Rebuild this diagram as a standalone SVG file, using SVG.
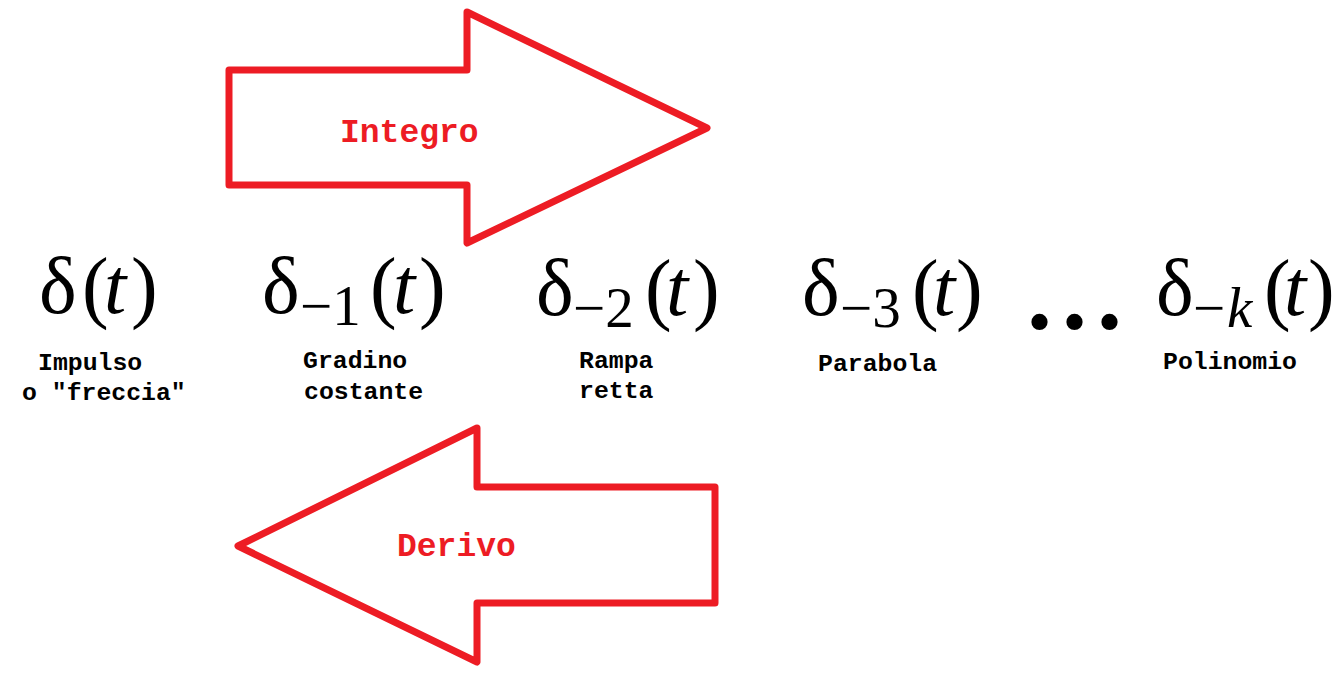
<svg xmlns="http://www.w3.org/2000/svg" width="1341" height="683" viewBox="0 0 1341 683">
<style>
.arrow{fill:none;stroke:#ED1C24;stroke-width:7;stroke-linejoin:round}
.alab{font-family:"Liberation Mono","DejaVu Sans Mono",monospace;font-weight:bold;font-size:33px;fill:#ED1C24}
.lab{font-family:"Liberation Mono","DejaVu Sans Mono",monospace;font-weight:bold;font-size:24.8px;fill:#000}
.m{font-family:"Liberation Serif","Times New Roman",serif;font-size:80px;fill:#000}
.s{font-size:57px}
.i{font-style:italic}
</style>
<rect width="1341" height="683" fill="#fff"/>
<g id="connectors">
<g id="integro">
<path class="arrow" d="M229,70 L467,70 L467,12 L707,128 L467,243 L467,185 L229,185 Z"/>
<text class="alab" x="340" y="142">Integro</text>
</g>
<g id="derivo">
<path class="arrow" d="M715,487 L477,487 L477,428 L238,546 L477,662 L477,603 L715,603 Z"/>
<text class="alab" x="397" y="556">Derivo</text>
</g>
</g>
<g id="n0">
<text class="m"><tspan x="39" y="313">δ</tspan><tspan x="82" y="313">(</tspan><tspan class="i" x="104" y="313">t</tspan><tspan x="131" y="313">)</tspan></text>
<text class="lab" x="38" y="370">Impulso</text>
<text class="lab" x="22" y="400">o "freccia"</text>
</g>
<g id="n1">
<text class="m"><tspan x="262" y="313">δ</tspan><tspan class="s" x="300" y="325">−1</tspan><tspan x="370" y="313">(</tspan><tspan class="i" x="393" y="313">t</tspan><tspan x="419" y="313">)</tspan></text>
<text class="lab" x="303" y="368">Gradino</text>
<text class="lab" x="304" y="399">costante</text>
</g>
<g id="n2">
<text class="m"><tspan x="536" y="315">δ</tspan><tspan class="s" x="573" y="327">−2</tspan><tspan x="645" y="315">(</tspan><tspan class="i" x="666" y="315">t</tspan><tspan x="693" y="315">)</tspan></text>
<text class="lab" x="579" y="368">Rampa</text>
<text class="lab" x="579" y="398">retta</text>
</g>
<g id="n3">
<text class="m"><tspan x="802" y="315">δ</tspan><tspan class="s" x="840" y="327">−3</tspan><tspan x="912" y="315">(</tspan><tspan class="i" x="933" y="315">t</tspan><tspan x="956" y="315">)</tspan></text>
<text class="lab" x="818" y="371">Parabola</text>
</g>
<g id="dots">
<text class="m" style="font-weight:bold;font-size:100px;letter-spacing:10px" x="1027" y="329">...</text>
</g>
<g id="nk">
<text class="m"><tspan x="1156" y="315">δ</tspan><tspan class="s" x="1193" y="327">−</tspan><tspan class="s i" x="1227" y="327">k</tspan><tspan x="1264" y="315">(</tspan><tspan class="i" x="1284" y="315">t</tspan><tspan x="1308" y="315">)</tspan></text>
<text class="lab" x="1163" y="369">Polinomio</text>
</g>
</svg>
